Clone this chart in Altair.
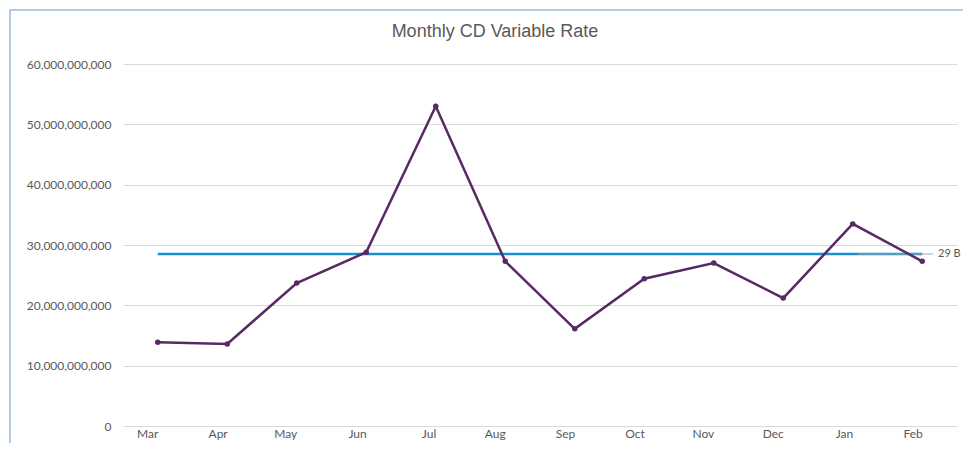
import altair as alt
import pandas as pd

months = ["Mar", "Apr", "May", "Jun", "Jul", "Aug", "Sep", "Oct", "Nov", "Dec", "Jan", "Feb"]
values = [13.9e9, 13.6e9, 23.7e9, 28.8e9, 53.0e9, 27.3e9, 16.1e9, 24.4e9, 27.0e9, 21.2e9, 33.5e9, 27.3e9]
target = 28.5e9
target_label = "29 B"
title_text = "Monthly CD Variable Rate"
y_ticks = [0, 10e9, 20e9, 30e9, 40e9, 50e9, 60e9]

df = pd.DataFrame({"month": months, "value": values})
tdf = pd.DataFrame({"start": [months[0]], "end": [months[-1]], "t": [target], "label": [target_label],
                    "title": [title_text]})

W, H = 834, 362
FONT = "Lato"
GREY = "#595959"

xscale = alt.Scale(type="point", padding=0.5, domain=months)
x_enc = alt.X("month:N", scale=xscale,
              axis=alt.Axis(title=None, ticks=False, domain=False, grid=False, labelAngle=0,
                            labelFont=FONT, labelFontSize=12, labelColor=GREY, labelPadding=7))
y_enc = alt.Y("value:Q", scale=alt.Scale(domain=[0, 60e9], nice=False),
              axis=alt.Axis(title=None, values=y_ticks, format=",.0f", ticks=False, domain=False,
                            gridColor="#d9d9d9", gridWidth=1, labelFont=FONT, labelFontSize=12,
                            labelColor=GREY, labelPadding=12))

frame = alt.Chart(tdf).mark_rect(fill=None, stroke="#9dbbdc", strokeWidth=1.5).encode(
    x=alt.value(-113), y=alt.value(-54), x2=alt.value(W + 200), y2=alt.value(H + 200)
)
title = alt.Chart(tdf).mark_text(font="Liberation Sans", fontSize=18, color=GREY,
                                 align="center", baseline="middle").encode(
    x=alt.value(372), y=alt.value(-32), text="title:N")

base = alt.Chart(df)
line = base.mark_line(color="#582a63", strokeWidth=2.5).encode(x=x_enc, y=y_enc)
pts = base.mark_point(color="#582a63", filled=True, size=30, opacity=1).encode(
    x=alt.X("month:N", scale=xscale), y="value:Q")

blue = alt.Chart(tdf).mark_rule(color="#1a8fd4", strokeWidth=2.5).encode(
    x=alt.X("start:N", scale=xscale), x2="end:N", y=alt.Y("t:Q"))
leader = alt.Chart(tdf).mark_rule(color="#9aa9b0", strokeWidth=1).encode(
    x=alt.value(735), x2=alt.value(810), y=alt.Y("t:Q"))
lab = alt.Chart(tdf).mark_text(align="left", baseline="middle", font=FONT, fontSize=11, color=GREY).encode(
    x=alt.value(815), y=alt.Y("t:Q"), text="label:N")

chart = alt.layer(frame, title, blue, leader, line, pts, lab).properties(
    width=W, height=H,
    autosize=alt.AutoSizeParams(type="none"),
    padding={"left": 115, "top": 56, "right": 6, "bottom": 17},
).configure(background="white").configure_view(stroke=None)

chart.save("out.html", embed_options={"renderer": "svg", "actions": False})
